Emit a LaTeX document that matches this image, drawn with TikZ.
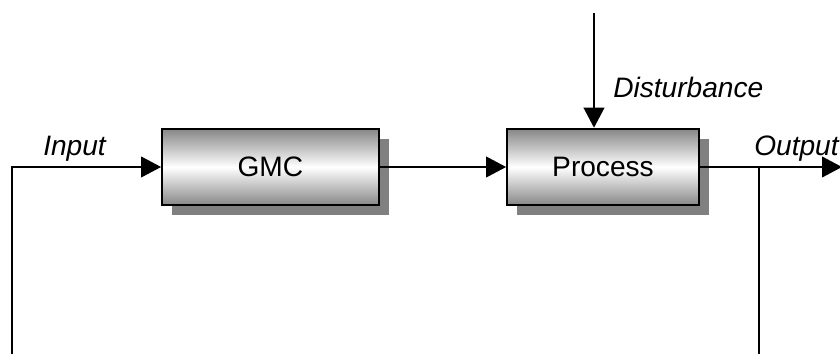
\documentclass[tikz,border=0pt]{standalone}
\usepackage{fontspec}
\setmainfont{Liberation Sans}
\usetikzlibrary{arrows.meta,calc,positioning,shadows}

\begin{document}
\begin{tikzpicture}[
  bloco/.style={draw,line width=1.3pt,minimum height=1.92cm,
                font=\fontsize{20}{24}\selectfont,
                top color=gray!95,bottom color=gray!95,middle color=white,
                drop shadow={shadow xshift=0.25cm,shadow yshift=-0.25cm,fill=gray,opacity=1}},
  arr/.style={-{Triangle[length=0.5cm,width=0.52cm]},line width=1pt},
  rotulo/.style={font=\fontsize{20}{24}\selectfont\itshape,anchor=base west,inner sep=0pt}
]
  \useasboundingbox (0,0) rectangle (21,8.85);
  \node[bloco,minimum width=5.42cm] (gmc) at (6.76,4.675) {GMC};
  \node[bloco,minimum width=4.8cm,right=3.16cm of gmc] (proc) {Process};
  \draw[arr] (gmc)--(proc);

  \coordinate (ent) at (0.3,0);
  \draw[arr] (ent) |- (gmc.west);
  \coordinate (saida) at (21.05,4.675);
  \draw[arr] (proc.east)--(saida);
  \coordinate (ramo) at (18.975,4.675);
  \coordinate (ramofim) at (18.975,0);
  \draw[line width=1pt] (ramo)--(ramofim);
  \coordinate (dist) at (14.85,8.52);
  \draw[arr] (dist)--(dist |- proc.north);

  \node[rotulo] (lin) at (1.075,4.975) {Input};
  \node[rotulo] (lout) at (18.85,4.975) {Output};
  \node[rotulo] (ldist) at ($(dist)+(0.475,-2.095)$) {Disturbance};
\end{tikzpicture}
\end{document}
